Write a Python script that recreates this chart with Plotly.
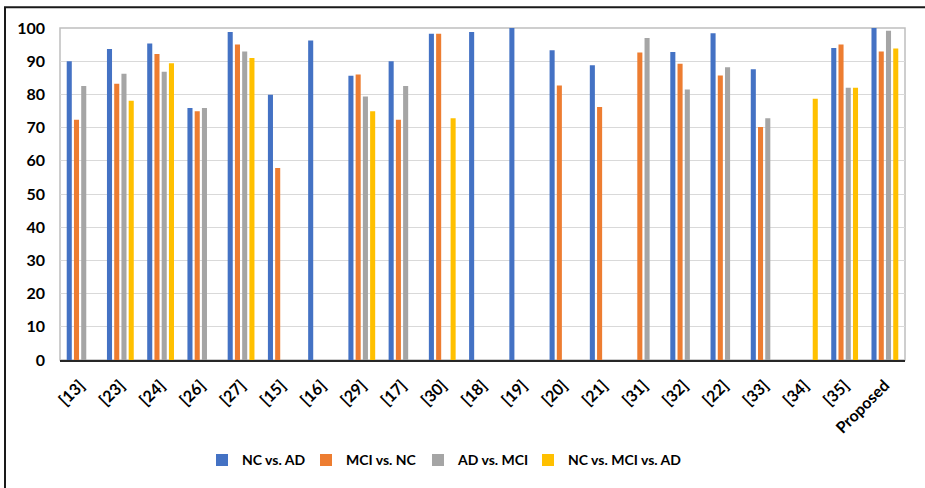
import plotly.graph_objects as go

# Studies compared (reference numbers) and the proposed method
studies = ["[13]", "[23]", "[24]", "[26]", "[27]", "[15]", "[16]", "[29]", "[17]", "[30]",
           "[18]", "[19]", "[20]", "[21]", "[31]", "[32]", "[22]", "[33]", "[34]", "[35]",
           "Proposed"]

# Accuracy (%) per classification task; None where a study reports no result
nc_vs_ad = [90.0, 93.7, 95.3, 75.9, 98.8, 79.9, 96.2, 85.6, 90.0, 98.3,
            98.8, 100.0, 93.3, 88.8, None, 92.8, 98.4, 87.6, None, 94.0,
            100.0]
mci_vs_nc = [72.4, 83.2, 92.2, 74.9, 95.0, 57.8, None, 86.0, 72.4, 98.3,
             None, None, 82.7, 76.2, 92.6, 89.2, 85.7, 70.2, None, 95.0,
             92.9]
ad_vs_mci = [82.5, 86.2, 86.8, 75.9, 92.9, None, None, 79.4, 82.5, None,
             None, None, None, None, 97.0, 81.5, 88.2, 72.8, None, 82.0,
             99.2]
nc_mci_ad = [None, 78.1, 89.4, None, 91.0, None, None, 74.9, None, 72.8,
             None, None, None, None, None, None, None, None, 78.7, 82.0,
             93.8]

series = [
    ("NC vs. AD", nc_vs_ad, "#4472C4"),
    ("MCI vs. NC", mci_vs_nc, "#ED7D31"),
    ("AD vs. MCI", ad_vs_mci, "#A5A5A5"),
    ("NC vs. MCI vs. AD", nc_mci_ad, "#FFC000"),
]

W, H = 925, 488
ml, mr, mt, mb = 60, 20, 28, 126
pw, ph = W - ml - mr, H - mt - mb


def px_to_paper(x=None, y=None):
    out = []
    if x is not None:
        out.append((x - ml) / pw)
    if y is not None:
        out.append((H - mb - y) / ph)
    return out[0] if len(out) == 1 else tuple(out)


bold = dict(family="Lato, Open Sans, sans-serif", size=15, color="black", weight="bold")

# one legend box per series so the entries sit at fixed horizontal positions
legend_ids = ["legend", "legend2", "legend3", "legend4"]
legend_left_px = [202, 306, 418, 528]

fig = go.Figure()
for (name, vals, color), lid in zip(series, legend_ids):
    fig.add_trace(go.Bar(
        x=studies, y=vals, name=name, legend=lid,
        marker=dict(color=color, line=dict(width=0)),
    ))

legend_layout = {}
for lid, lx in zip(legend_ids, legend_left_px):
    legend_layout[lid] = dict(
        orientation="h", x=px_to_paper(x=lx), xanchor="left",
        y=px_to_paper(y=463), yanchor="middle",
        font=dict(bold, size=14), itemclick=False, bgcolor="rgba(0,0,0,0)",
    )

fig.update_layout(
    width=W, height=H,
    margin=dict(l=ml, r=mr, t=mt, b=mb),
    paper_bgcolor="white", plot_bgcolor="white",
    barmode="group", bargap=0.28, bargroupgap=0.3,
    font=bold,
    showlegend=True,
    **legend_layout,
    xaxis=dict(
        type="category", tickangle=-45, tickfont=dict(bold, size=16),
        showgrid=False, showline=True, linecolor="#262626", linewidth=1.5,
        ticks="", ticklabelstandoff=8, fixedrange=True,
    ),
    yaxis=dict(
        range=[0, 100], dtick=10, tickfont=dict(bold, size=16),
        showgrid=True, gridcolor="#d9d9d9", gridwidth=1,
        zeroline=False, showline=False, ticks="",
        ticklabelstandoff=14, fixedrange=True,
    ),
    shapes=[
        # plot-area frame
        dict(type="rect", xref="paper", yref="paper", x0=0, x1=1, y0=0, y1=1,
             line=dict(color="#bfbfbf", width=1.5), layer="below"),
        # outer figure border
        dict(type="rect", xref="paper", yref="paper",
             x0=px_to_paper(x=5), x1=px_to_paper(x=940),
             y0=px_to_paper(y=500), y1=px_to_paper(y=7),
             line=dict(color="#1a1a1a", width=2)),
    ],
)

fig.write_html("out.html")
